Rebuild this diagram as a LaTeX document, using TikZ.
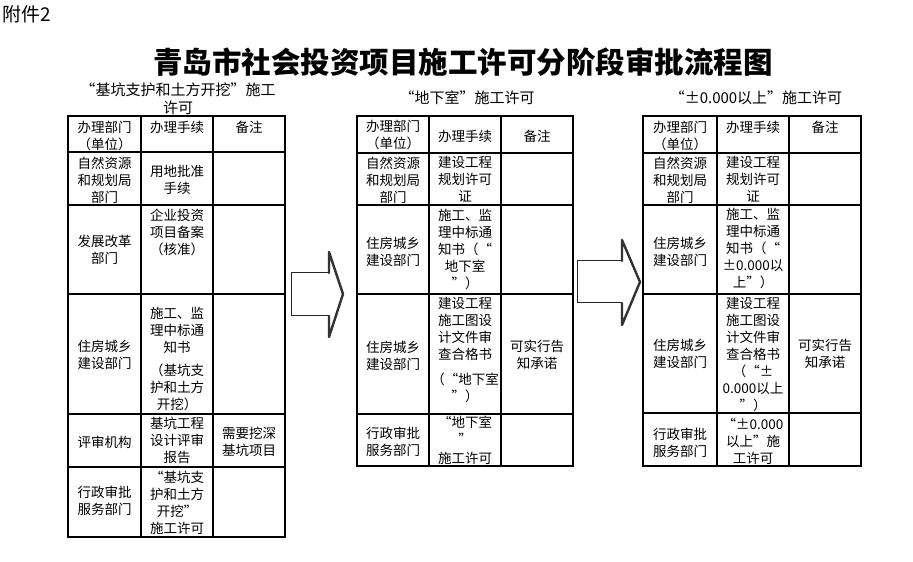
\documentclass[tikz,border=0pt]{standalone}
\usepackage{fontspec}
\setmainfont{Noto Sans CJK SC}
\newcommand\cellfont{\fontsize{13.5bp}{17bp}\selectfont}
\newcommand\headfont{\fontsize{15bp}{18bp}\selectfont}
\tikzset{
  cell/.style={align=center, font=\cellfont, inner sep=0pt},
  heading/.style={align=center, font=\headfont, inner sep=0pt},
  grid/.style={line width=1.6bp},
  arrowbody/.style={line width=1bp, draw=black!85},
  arrowhead/.style={line width=2.4bp, draw=black!80, line cap=round, line join=round},
}
\begin{document}
\begin{tikzpicture}[x=1bp,y=-1bp]
\useasboundingbox (0,0) rectangle (913,562);

% title and label
\node[anchor=west, inner sep=0pt, font=\fontsize{19bp}{22bp}\selectfont] (att) at (2,14) {附件2};
\node[inner sep=0pt, font=\fontsize{29.5bp}{32bp}\selectfont\bfseries] (title) at (463,62) {青岛市社会投资项目施工许可分阶段审批流程图};

% headings
\node[heading] (hL) at (178,99) {“基坑支护和土方开挖”施工\\许可};
\node[heading] (hM) at (467,98) {“地下室”施工许可};
\node[heading] (hR) at (756,98) {“±0.000以上”施工许可};

% ---------- left table ----------
\draw[grid] (68,116) rectangle (285,537);
\draw[grid] (141,116) -- (141,537) (213,116) -- (213,537);
\foreach \y in {152,205,294,414,467} \draw[grid] (68,\y) -- (285,\y);

\node[cell] (L01) at (104.5,135.5) {办理部门\\（单位）};
\node[cell] (L02) at (177,127) {办理手续};
\node[cell] (L03) at (249,127) {备注};
\node[cell] (L11) at (104.5,180) {自然资源\\和规划局\\部门};
\node[cell] (L12) at (177,180) {用地批准\\手续};
\node[cell] (L21) at (104.5,250) {发展改革\\部门};
\node[cell] (L22) at (177,232) {企业投资\\项目备案\\（核准）};
\node[cell] (L31) at (104.5,355) {住房城乡\\建设部门};
\node[cell] (L32) at (177,359) {施工、监\\理中标通\\知书\\[6bp]（基坑支\\护和土方\\开挖）};
\node[cell] (L41) at (104.5,442) {评审机构};
\node[cell] (L42) at (177,440.5) {基坑工程\\设计评审\\报告};
\node[cell] (L43) at (249,441.5) {需要挖深\\基坑项目};
\node[cell] (L51) at (104.5,501) {行政审批\\服务部门};
\node[cell] (L52) at (177,502.5) {“基坑支\\护和土方\\开挖”\\施工许可};

% ---------- middle table ----------
\draw[grid] (357,116) rectangle (573,466);
\draw[grid] (429,116) -- (429,466) (501,116) -- (501,466);
\foreach \y in {153,205,294,414} \draw[grid] (357,\y) -- (573,\y);

\node[cell] (M01) at (393,135) {办理部门\\（单位）};
\node[cell] (M02) at (465,136) {办理手续};
\node[cell] (M03) at (537,136) {备注};
\node[cell] (M11) at (393,180) {自然资源\\和规划局\\部门};
\node[cell] (M12) at (465,179.5) {建设工程\\规划许可\\证};
\node[cell] (M21) at (393,251.5) {住房城乡\\建设部门};
\node[cell] (M22) at (465,249) {施工、监\\理中标通\\知书（“\\地下室\\”）};
\node[cell] (M31) at (393,355.5) {住房城乡\\建设部门};
\node[cell] (M32) at (465,350) {建设工程\\施工图设\\计文件审\\查合格书\\[8bp]（“地下室\\”）};
\node[cell] (M33) at (537,354.5) {可实行告\\知承诺};
\node[cell] (M41) at (393,441.5) {行政审批\\服务部门};
\node[cell] (M42) at (465,440.5) {“地下室\\”\\[2bp]施工许可};

% ---------- right table ----------
\draw[grid] (643,116) rectangle (861,466);
\draw[grid] (717,116) -- (717,466) (789,116) -- (789,466);
\foreach \y in {153,205,294,413} \draw[grid] (643,\y) -- (861,\y);

\node[cell] (R01) at (680,135.5) {办理部门\\（单位）};
\node[cell] (R02) at (753,127) {办理手续};
\node[cell] (R03) at (825,127) {备注};
\node[cell] (R11) at (680,180) {自然资源\\和规划局\\部门};
\node[cell] (R12) at (753,179.5) {建设工程\\规划许可\\证};
\node[cell] (R21) at (680,251.5) {住房城乡\\建设部门};
\node[cell] (R22) at (753,248) {施工、监\\理中标通\\知书（“\\±0.000以\\上”）};
\node[cell] (R31) at (680,353.5) {住房城乡\\建设部门};
\node[cell] (R32) at (753,354) {建设工程\\施工图设\\计文件审\\查合格书\\（“±\\0.000以上\\”）};
\node[cell] (R33) at (825,353.5) {可实行告\\知承诺};
\node[cell] (R41) at (680,442.5) {行政审批\\服务部门};
\node[cell] (R42) at (753,441.5) {“±0.000\\以上”施\\工许可};

% ---------- block arrows ----------
\draw[arrowbody] (329,273) -- (291,273) -- (291,316) -- (329,316);
\draw[arrowhead] (329,316) -- (329,337) -- (343,294) -- (329,252) -- (329,273);
\draw[arrowbody] (622,261) -- (577,261) -- (577,303) -- (622,303);
\draw[arrowhead] (622,303) -- (622,325) -- (640,282) -- (622,240) -- (622,261);
\end{tikzpicture}
\end{document}
